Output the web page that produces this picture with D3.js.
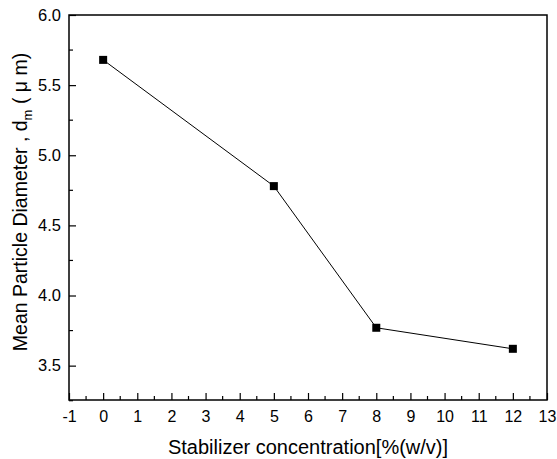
<!DOCTYPE html>
<html>
<head>
<meta charset="utf-8">
<script src="https://cdn.jsdelivr.net/npm/d3@7"></script>
<style>
  html, body { margin: 0; padding: 0; background: #fff; }
  svg { display: block; font-family: "Liberation Sans", Arial, sans-serif; }
</style>
</head>
<body>
<svg id="chart" width="557" height="459"></svg>
<script>
// Stabilizer concentration (% w/v) vs. mean particle diameter (µm)
const concentration = [0, 5, 8, 12];
const diameter = [5.68, 4.78, 3.77, 3.62];
const xTicks = [-1, 0, 1, 2, 3, 4, 5, 6, 7, 8, 9, 10, 11, 12, 13];
const yTicks = [3.5, 4.0, 4.5, 5.0, 5.5, 6.0];

(function () {
const svg = d3.select("#chart");
const plot = { left: 69, right: 547, top: 15, bottom: 400 };

const x = d3.scaleLinear().domain([-1, 13]).range([plot.left, plot.right]);
const y = d3.scaleLinear().domain([3.255, 6.0]).range([plot.bottom, plot.top]);

// frame
svg.append("rect")
  .attr("x", plot.left).attr("y", plot.top)
  .attr("width", plot.right - plot.left).attr("height", plot.bottom - plot.top)
  .attr("fill", "none").attr("stroke", "#000").attr("stroke-width", 1.5);

// x axis: major ticks inward with labels, minor ticks at half steps
const xAxis = d3.axisBottom(x).tickValues(xTicks).tickSize(-7).tickPadding(11)
  .tickFormat(d => String(d));
const gx = svg.append("g").attr("transform", `translate(0,${plot.bottom})`).call(xAxis);
const xMinor = d3.range(-0.5, 13, 1);
gx.selectAll(".minor").data(xMinor).enter().append("line")
  .attr("class", "minor")
  .attr("x1", d => x(d)).attr("x2", d => x(d))
  .attr("y1", 0).attr("y2", -4).attr("stroke", "#000").attr("stroke-width", 1.2);

// y axis
const yAxis = d3.axisLeft(y).tickValues(yTicks).tickSize(-7).tickPadding(8)
  .tickFormat(d3.format(".1f"));
const gy = svg.append("g").attr("transform", `translate(${plot.left},0)`).call(yAxis);
const yMinor = [3.25, 3.75, 4.25, 4.75, 5.25, 5.75];
gy.selectAll(".minor").data(yMinor).enter().append("line")
  .attr("class", "minor")
  .attr("y1", d => y(d)).attr("y2", d => y(d))
  .attr("x1", 0).attr("x2", 4).attr("stroke", "#000").attr("stroke-width", 1.2);

[gx, gy].forEach(g => {
  g.select(".domain").remove();
  g.selectAll(".tick line").attr("stroke", "#000").attr("stroke-width", 1.2);
  g.selectAll(".tick text").attr("fill", "#000")
    .style("font-family", "Liberation Sans, Arial, sans-serif");
});
gx.selectAll(".tick text").style("font-size", "16px");
gy.selectAll(".tick text").style("font-size", "16.5px");

// data line and square markers
const pts = concentration.map((c, i) => [c, diameter[i]]);
svg.append("path")
  .datum(pts)
  .attr("fill", "none").attr("stroke", "#000").attr("stroke-width", 1)
  .attr("d", d3.line().x(d => x(d[0])).y(d => y(d[1])));

svg.selectAll(".pt").data(pts).enter().append("rect")
  .attr("class", "pt")
  .attr("x", d => x(d[0]) - 4).attr("y", d => y(d[1]) - 4)
  .attr("width", 8).attr("height", 8).attr("fill", "#000");

// axis titles
svg.append("text")
  .attr("x", 308).attr("y", 454)
  .attr("text-anchor", "middle").style("font-size", "20px").attr("fill", "#000")
  .text("Stabilizer concentration[%(w/v)]");

const yt = svg.append("text")
  .attr("transform", "translate(27,202) rotate(-90)")
  .attr("text-anchor", "middle").style("font-size", "19.5px").attr("fill", "#000");
yt.append("tspan").text("Mean Particle Diameter , d");
yt.append("tspan").attr("dy", 5).style("font-size", "13px").text("m");
yt.append("tspan").attr("dy", -5).text(" ( μ m)");
})();
</script>
</body>
</html>
